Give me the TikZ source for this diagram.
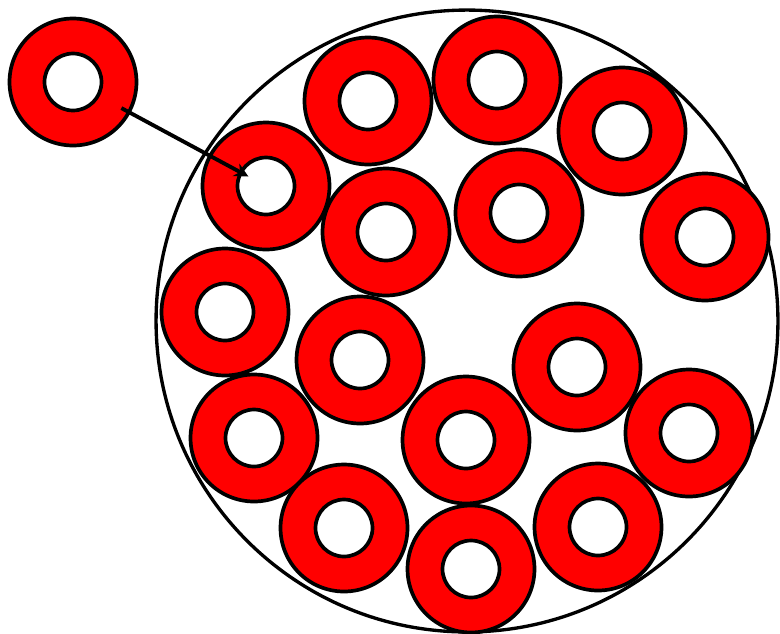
\documentclass[tikz,border=0pt]{standalone}
\usetikzlibrary{calc,arrows.meta}
\begin{document}
\begin{tikzpicture}[x=0.02cm,y=-0.02cm,
  outerring/.style={circle,draw=black,fill=red,line width=2.1pt,minimum size=2.54cm,inner sep=0pt},
  innerhole/.style={circle,draw=black,fill=white,line width=2.1pt,minimum size=1.14cm,inner sep=0pt},
  bigcircle/.style={circle,draw=black,line width=1.9pt,minimum size=12.44cm,inner sep=0pt},
  pointer/.style={draw=black,line width=2.2pt,-{Stealth[length=8pt,width=8pt]}}]
\useasboundingbox (0,0) rectangle (780,633);
\node[bigcircle] (big) at (467,321) {};
\foreach \n/\x/\y in {1/73/82, 2/266/186, 3/368/101, 4/497/80, 5/622/131, 6/386/232, 7/519/213, 8/705/237, 9/225/312, 10/360/360, 11/577/367, 12/254/438, 13/466/440, 14/689/433, 15/344/528, 16/471/569, 17/598/527}{
  \node[outerring] (r\n) at (\x,\y) {};
  \node[innerhole] (h\n) at (r\n) {};
}
\draw[pointer] ($(r1)!1.1cm!(r2)$) -- ($(r2)!0.4cm!(r1)$);
\end{tikzpicture}
\end{document}
